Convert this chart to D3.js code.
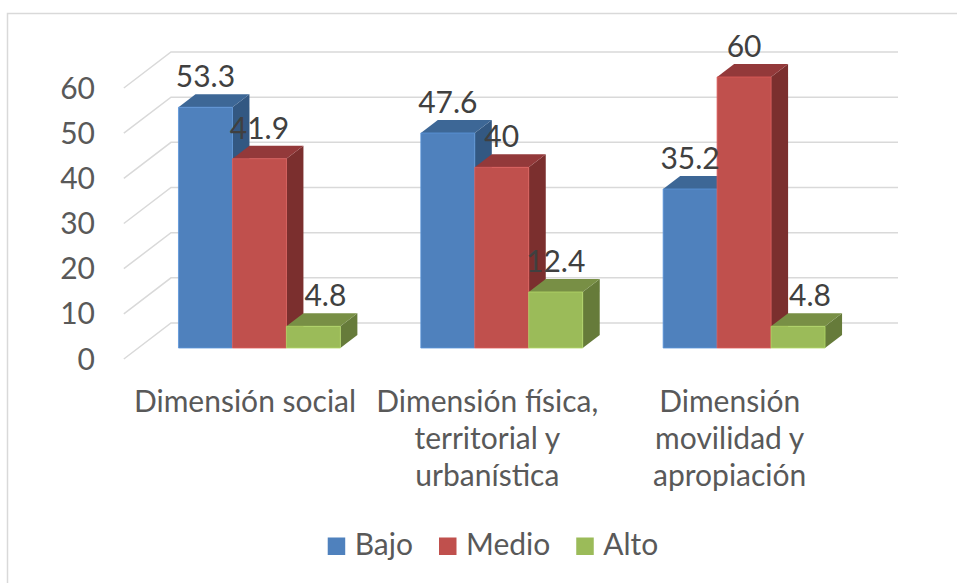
<!DOCTYPE html>
<html>
<head>
<meta charset="utf-8">
<script src="https://cdn.jsdelivr.net/npm/d3@7"></script>
<style>
  body { margin: 0; background: #fff; }
  text { font-family: Lato, "Open Sans", sans-serif; }
</style>
</head>
<body>
<svg id="chart"></svg>
<script>
const categories = ["Dimensión social", "Dimensión física,\nterritorial y\nurbanística", "Dimensión\nmovilidad y\napropiación"];
const series = ["Bajo", "Medio", "Alto"];
const bajo = [53.3, 47.6, 35.2];
const medio = [41.9, 40, 60];
const alto = [4.8, 12.4, 4.8];
const ticks = [0, 10, 20, 30, 40, 50, 60];

const values = [bajo, medio, alto];
const width = 957, height = 583;
const svg = d3.select("#chart").attr("width", width).attr("height", height);

// face colours: front, top, side
const colors = {
  Bajo:  ["#4f81bd", "#3d6796", "#335882"],
  Medio: ["#c0504d", "#93393a", "#7b2f2e"],
  Alto:  ["#9bbb59", "#788f45", "#667b3a"]
};

const y = d3.scaleLinear().domain([0, 60]).range([323, 52]);
const x0 = d3.scaleBand().domain(categories).range([171, 898])
    .paddingInner(0.332).paddingOuter(0.166);
const x1 = d3.scaleBand().domain(series).range([0, x0.bandwidth()]);

const slope = 1.31, floorDepth = 36, barFront = 25, barBack = 12;
const proj = (x, v, d) => [x - slope * d, y(v) + d];
const poly = (pts) => "M" + pts.map((p) => p.join(",")).join("L") + "Z";

// chart frame
svg.append("rect")
    .attr("x", 7.5).attr("y", 13.5)
    .attr("width", 1000).attr("height", 700)
    .attr("fill", "none").attr("stroke", "#d9d9d9").attr("stroke-width", 1.5);

// back wall gridlines and side wall diagonals
const grid = svg.append("g").attr("stroke", "#d9d9d9").attr("stroke-width", 1.5).attr("fill", "none");
const [wallL, wallR] = x0.range();
ticks.forEach((t) => {
  const a = proj(wallL, t, floorDepth), b = proj(wallL, t, 0), c = proj(wallR, t, 0);
  grid.append("path").attr("d", `M${a}L${b}L${c}`);
});

svg.append("g").selectAll("text")
  .data(ticks).enter().append("text")
    .attr("x", 95)
    .attr("y", (t) => proj(wallL, t, floorDepth)[1] + 10.5)
    .attr("text-anchor", "end")
    .attr("fill", "#595959")
    .attr("font-size", 30)
    .text((t) => t);

// bars
const bars = svg.append("g");
const labels = [];
categories.forEach((cat, i) => {
  series.forEach((s, j) => {
    const v = values[j][i];
    const xl = x0(cat) + x1(s), xr = xl + x1.bandwidth();
    const [cf, ct, cs] = colors[s];
    bars.append("path")
        .attr("d", poly([proj(xr, 0, barFront), proj(xr, v, barFront), proj(xr, v, barBack), proj(xr, 0, barBack)]))
        .attr("fill", cs);
    bars.append("path")
        .attr("d", poly([proj(xl, v, barFront), proj(xr, v, barFront), proj(xr, v, barBack), proj(xl, v, barBack)]))
        .attr("fill", ct);
    bars.append("path")
        .attr("d", poly([proj(xl, 0, barFront), proj(xl, v, barFront), proj(xr, v, barFront), proj(xr, 0, barFront)]))
        .attr("fill", cf)
        .attr("stroke", d3.color(cf).brighter(0.4)).attr("stroke-width", 0.8);
    const top = proj(xl, v, barBack);
    // small values get nudged off the neighbour's side face
    const nudge = v < 10 ? 12 : 0;
    labels.push({ x: (proj(xl, v, barFront)[0] + proj(xr, v, barFront)[0]) / 2 + nudge, y: top[1] - 7, v });
  });
});

svg.append("g").selectAll("text")
  .data(labels).enter().append("text")
    .attr("x", (d) => d.x)
    .attr("y", (d) => d.y)
    .attr("text-anchor", "middle")
    .attr("fill", "#404040")
    .attr("font-size", 30)
    .text((d) => d.v);

// category labels along the front floor edge
const cat = svg.append("g").selectAll("text")
  .data(categories).enter().append("text")
    .attr("text-anchor", "middle")
    .attr("fill", "#595959")
    .attr("font-size", 30)
    .attr("transform", (c) => `translate(${proj(x0(c) + x0.bandwidth() / 2, 0, floorDepth)[0]},412)`);
cat.selectAll("tspan")
  .data((c) => c.split("\n")).enter().append("tspan")
    .attr("x", 0)
    .attr("y", (d, k) => k * 37)
    .text((d) => d);

// legend
const legend = svg.append("g");
let lx = 0;
series.forEach((s) => {
  const item = legend.append("g").attr("transform", `translate(${lx},0)`);
  item.append("rect").attr("x", 0).attr("y", -17.5).attr("width", 17.5).attr("height", 17.5).attr("fill", colors[s][0]);
  const t = item.append("text").attr("x", 27).attr("y", 0).attr("fill", "#595959").attr("font-size", 30).text(s);
  lx += 27 + t.node().getComputedTextLength() + 26;
});
lx -= 26;
legend.attr("transform", `translate(${493 - lx / 2},555)`);
</script>
</body>
</html>
